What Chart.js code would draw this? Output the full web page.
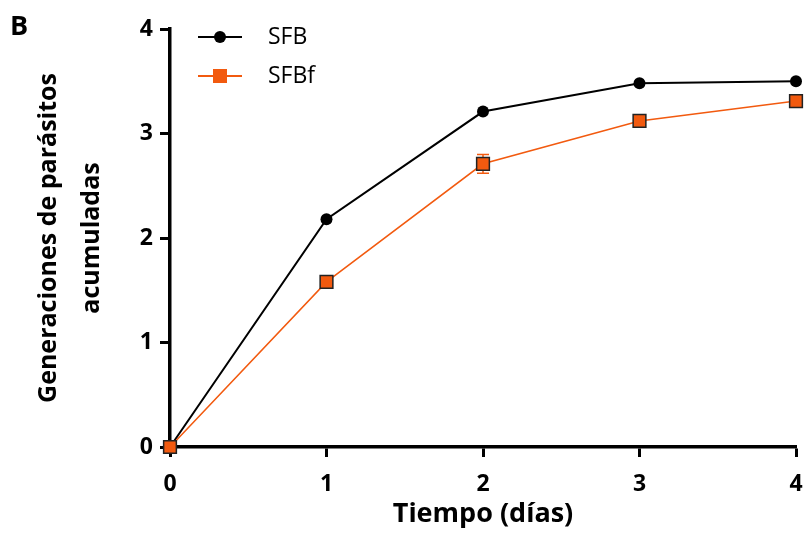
<!DOCTYPE html>
<html>
<head>
<meta charset="utf-8">
<script src="https://cdn.jsdelivr.net/npm/chart.js@4.4.1/dist/chart.umd.min.js"></script>
<style>
  html, body { margin: 0; padding: 0; background: #fff; }
  .chart-container { position: relative; width: 807px; height: 533px; }
</style>
</head>
<body>
<div class="chart-container"><canvas id="myChart"></canvas></div>
<script>
// --- dados ---
const days = [0, 1, 2, 3, 4];
const sfb = [0, 2.18, 3.21, 3.48, 3.50];
const sfbf = [0, 1.58, 2.71, 3.12, 3.31];
const sfbfErr = [0, 0.03, 0.09, 0.04, 0.04];
const yTickValues = [0, 1, 2, 3, 4];
const seriesLabels = ['SFB', 'SFBf'];
const xTitle = 'Tiempo (días)';
const yTitle = ['Generaciones de parásitos', 'acumuladas'];
const panelLabel = 'B';

const ORANGE = '#f25a0f';
const FONT = "'Open Sans', sans-serif";

// barras de erro (desenhadas antes dos marcadores)
const errorBars = {
  id: 'errorBars',
  beforeDatasetsDraw(chart) {
    const ctx = chart.ctx, xs = chart.scales.x, ys = chart.scales.y;
    ctx.save();
    ctx.strokeStyle = ORANGE;
    ctx.lineWidth = 1.5;
    days.forEach((d, i) => {
      if (!sfbfErr[i]) return;
      const x = xs.getPixelForValue(d);
      const y1 = ys.getPixelForValue(sfbf[i] + sfbfErr[i]);
      const y2 = ys.getPixelForValue(sfbf[i] - sfbfErr[i]);
      ctx.beginPath();
      ctx.moveTo(x, y1); ctx.lineTo(x, y2);
      ctx.moveTo(x - 6, y1); ctx.lineTo(x + 6, y1);
      ctx.moveTo(x - 6, y2); ctx.lineTo(x + 6, y2);
      ctx.stroke();
    });
    ctx.restore();
  }
};

// legenda + letra do painel
const extras = {
  id: 'extras',
  afterDraw(chart) {
    const ctx = chart.ctx;
    ctx.save();
    ctx.fillStyle = '#000';
    ctx.font = `bold 27px ${FONT}`;
    ctx.textBaseline = 'top';
    ctx.fillText(panelLabel, 10, 14);

    const rows = [
      { y: 37, color: '#000', label: seriesLabels[0], mark: 'circle', lw: 2 },
      { y: 76, color: ORANGE, label: seriesLabels[1], mark: 'rect', lw: 2 }
    ];
    ctx.font = `23px ${FONT}`;
    ctx.textBaseline = 'middle';
    rows.forEach(r => {
      ctx.strokeStyle = r.color;
      ctx.lineWidth = r.lw;
      ctx.beginPath(); ctx.moveTo(198, r.y); ctx.lineTo(242, r.y); ctx.stroke();
      ctx.fillStyle = r.color;
      if (r.mark === 'circle') {
        ctx.beginPath(); ctx.arc(220, r.y, 6, 0, Math.PI * 2); ctx.fill();
      } else {
        ctx.fillRect(213, r.y - 7, 14, 14);
      }
      ctx.fillStyle = '#000';
      ctx.fillText(r.label, 268, r.y);
    });
    ctx.restore();
  }
};

const ctx = document.getElementById('myChart').getContext('2d');
new Chart(ctx, {
  type: 'line',
  data: {
    datasets: [
      {
        label: seriesLabels[0],
        data: days.map((d, i) => ({ x: d, y: sfb[i] })),
        borderColor: '#000',
        backgroundColor: '#000',
        borderWidth: 2,
        pointStyle: 'circle',
        pointRadius: 6,
        pointBorderWidth: 0,
        order: 1
      },
      {
        label: seriesLabels[1],
        data: days.map((d, i) => ({ x: d, y: sfbf[i] })),
        borderColor: ORANGE,
        backgroundColor: ORANGE,
        borderWidth: 1.5,
        pointStyle: 'rect',
        pointRadius: 9,
        pointBorderColor: '#222',
        pointBorderWidth: 1.5,
        order: 0
      }
    ]
  },
  options: {
    responsive: true,
    maintainAspectRatio: false,
    animation: false,
    events: [],
    clip: false,
    layout: { padding: { top: 29, right: 11, left: 0, bottom: 0 } },
    plugins: { legend: { display: false }, tooltip: { enabled: false } },
    scales: {
      x: {
        type: 'linear',
        min: 0, max: 4,
        afterFit: s => { s.height = 86; s.paddingRight = 0; s.paddingLeft = 0; },
        afterBuildTicks: s => { s.ticks = days.map(v => ({ value: v })); },
        ticks: { color: '#000', padding: 14, font: { family: FONT, size: 23, weight: 'bold' } },
        grid: { drawOnChartArea: false, drawTicks: true, tickLength: 10, tickWidth: 3, tickColor: '#000' },
        border: { display: true, color: '#000', width: 3.5 },
        title: {
          display: true, text: xTitle, color: '#000',
          font: { family: FONT, size: 27, weight: 'bold' },
          padding: { top: 0, bottom: 2 }
        }
      },
      y: {
        min: 0, max: 4,
        afterFit: s => { s.width = 170; },
        afterBuildTicks: s => { s.ticks = yTickValues.map(v => ({ value: v })); },
        ticks: { color: '#000', padding: 7, font: { family: FONT, size: 23, weight: 'bold' } },
        grid: { drawOnChartArea: false, drawTicks: true, tickLength: 10, tickWidth: 3, tickColor: '#000' },
        border: { display: true, color: '#000', width: 3.5 },
        title: {
          display: true, text: yTitle, color: '#000',
          font: { family: FONT, size: 25, weight: 'bold', lineHeight: 1.72 },
          padding: { top: 27, bottom: 0 }
        }
      }
    }
  },
  plugins: [errorBars, extras]
});
</script>
</body>
</html>
